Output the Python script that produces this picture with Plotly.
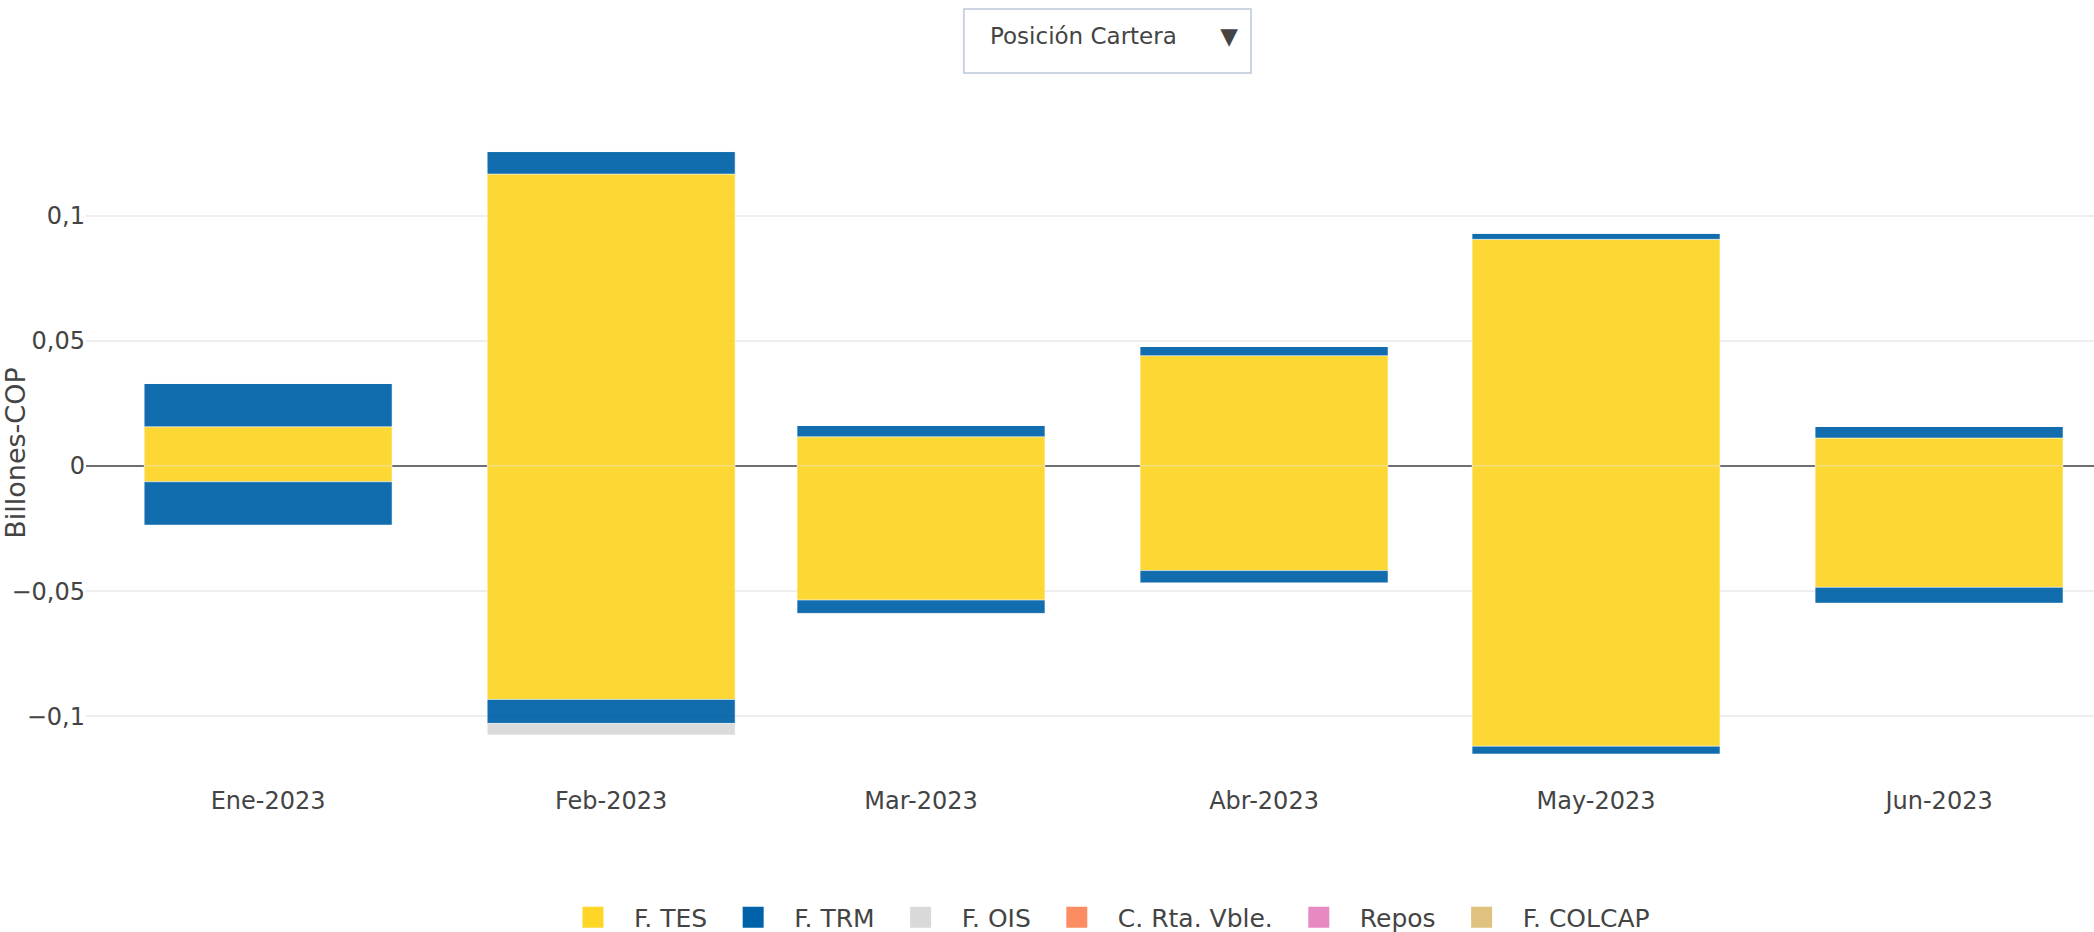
import plotly.graph_objects as go

# ---------------- data ----------------
months = ["2023-01-01", "2023-02-01", "2023-03-01", "2023-04-01", "2023-05-01", "2023-06-01"]
month_labels = ["Ene-2023", "Feb-2023", "Mar-2023", "Abr-2023", "May-2023", "Jun-2023"]

series_names = ["F. TES", "F. TRM", "F. OIS", "C. Rta. Vble.", "Repos", "F. COLCAP"]
series_colors = ["#FDD626", "#0062A8", "#D9D9D9", "#FC8D62", "#E78AC3", "#E0C27F"]

# positive (long) and negative (short) parts, Billones COP
tes_pos = [0.0157, 0.1167, 0.0117, 0.0441, 0.0906, 0.0112]
tes_neg = [-0.0063, -0.0933, -0.0536, -0.0418, -0.1120, -0.0485]
trm_pos = [0.0174, 0.0090, 0.0047, 0.0037, 0.0026, 0.0046]
trm_neg = [-0.0173, -0.0096, -0.0053, -0.0049, -0.0031, -0.0063]
ois_pos = [0, 0, 0, 0, 0, 0]
ois_neg = [0, -0.0046, 0, 0, 0, 0]
rv_pos = [0, 0, 0, 0, 0, 0]
rv_neg = [0, 0, 0, 0, 0, 0]
repos_pos = [0, 0, 0, 0, 0, 0]
repos_neg = [0, 0, 0, 0, 0, 0]
colcap_pos = [0, 0, 0, 0, 0, 0]
colcap_neg = [0, 0, 0, 0, 0, 0]

y_ticks = [-0.1, -0.05, 0, 0.05, 0.1]
menu_label = "Posición Cartera"

pos_parts = [tes_pos, trm_pos, ois_pos, rv_pos, repos_pos, colcap_pos]
neg_parts = [tes_neg, trm_neg, ois_neg, rv_neg, repos_neg, colcap_neg]

FONT = "DejaVu Sans"
NB = "\u00a0"
fig = go.Figure()

for name, color, pos, neg in zip(series_names, series_colors, pos_parts, neg_parts):
    for part in (pos, neg):
        fig.add_trace(go.Bar(
            x=months, y=part, name=name, legendgroup=name, showlegend=False,
            marker=dict(color=color, opacity=0.93, line=dict(color="white", width=0.5)),
        ))

# legend entries
for name, color in zip(series_names, series_colors):
    fig.add_trace(go.Scatter(
        x=[None], y=[None], mode="markers", name=name, legendgroup=name,
        marker=dict(symbol="square", size=16, color=color, line=dict(color=color, width=5)),
    ))

fig.update_layout(
    width=2094, height=932,
    template="plotly_white",
    barmode="relative",
    separators=",.",
    font=dict(family=FONT, size=24, color="#444"),
    margin=dict(l=86, r=0, t=122, b=148, autoexpand=False),
    paper_bgcolor="white", plot_bgcolor="white",
    xaxis=dict(
        type="date",
        range=["2022-12-15 13:00", "2023-06-15 00:00"],
        tickvals=months, ticktext=month_labels,
        showgrid=False, zeroline=False, showline=False,
        tickfont=dict(size=24, color="#444"),
    ),
    yaxis=dict(
        range=[-0.1271, 0.1375],
        tickvals=y_ticks,
        gridcolor="#EEEEEE", gridwidth=1.5,
        zeroline=True, zerolinecolor="#6F6F6F", zerolinewidth=2,
        tickfont=dict(size=24, color="#444"),
        title=dict(text="Billones-COP", font=dict(size=27, color="#444"), standoff=0),
    ),
    legend=dict(
        orientation="h", x=0.5067, xanchor="center", y=-0.2017, yanchor="middle",
        font=dict(size=25, color="#444"), itemwidth=72,
    ),
    shapes=[dict(
        type="rect", xref="paper", yref="paper",
        x0=0.4372, x1=0.5802, y0=1.0740, y1=1.1707,
        line=dict(color="#BEC8D9", width=1.5), fillcolor="white", layer="above",
    )],
    updatemenus=[dict(
        type="dropdown", active=0, showactive=True,
        x=0.4442, xanchor="left", y=1.1224, yanchor="middle",
        bgcolor="white", bordercolor="white", borderwidth=0,
        font=dict(size=23, color="#444"),
        pad=dict(t=0, b=0, l=0, r=0),
        buttons=[dict(label=menu_label + NB * 5, method="restyle", args=[{}])],
    )],
)

fig.write_html(
    "out.html",
    config={"displayModeBar": False},
    post_script="document.body.style.margin='0';document.body.style.overflow='hidden';",
)
